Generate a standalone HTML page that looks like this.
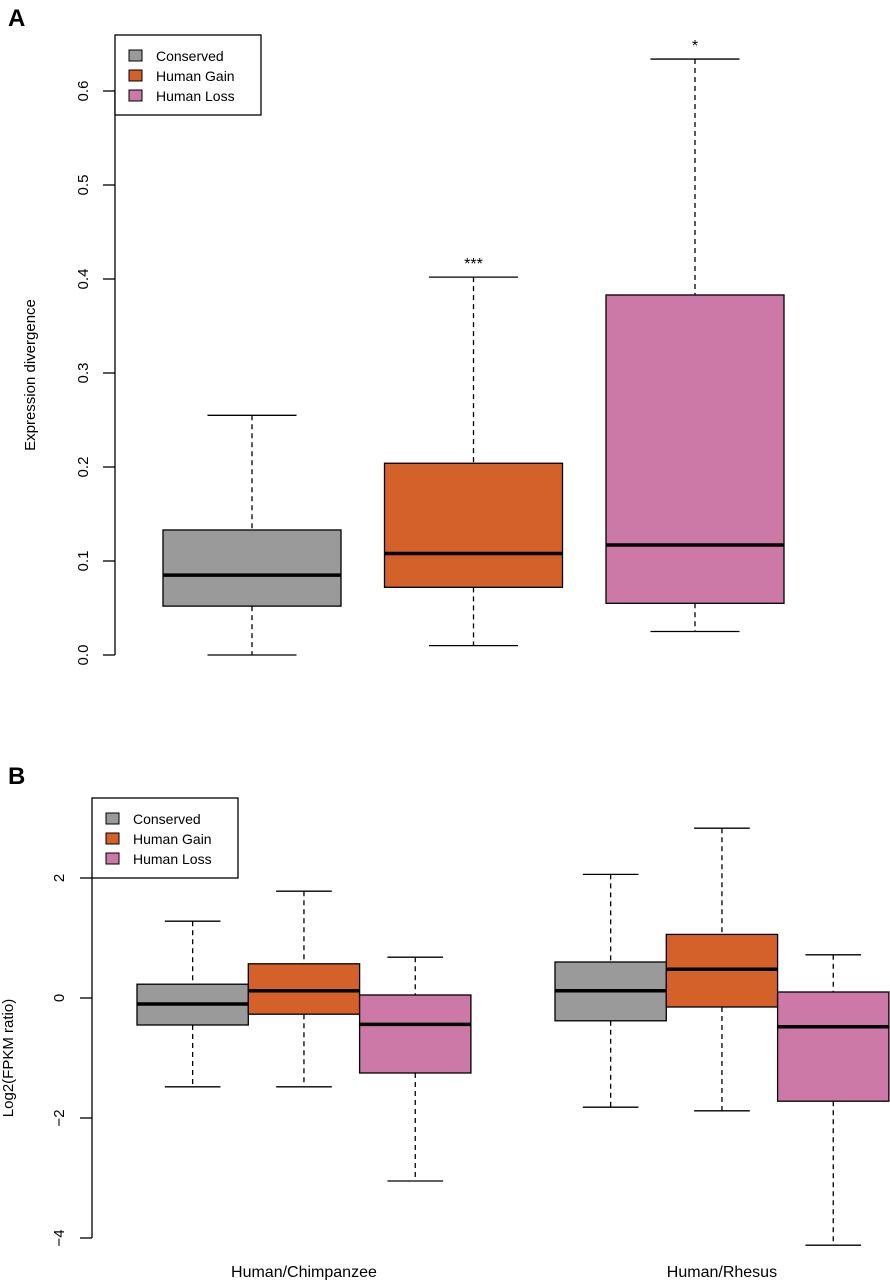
<!DOCTYPE html>
<html><head><meta charset="utf-8">
<style>
html,body{margin:0;padding:0;background:#fff;}
svg{display:block;font-family:"Liberation Sans",Arial,sans-serif;}
</style></head>
<body>
<svg id="chart" width="890" height="1280" viewBox="0 0 890 1280" xmlns="http://www.w3.org/2000/svg">
<text x="8" y="26" font-size="24" font-weight="bold">A</text>
<text x="8" y="784" font-size="24" font-weight="bold">B</text>
<g id="pa"></g>
<g id="pb"></g>
</svg>
<script>
// Panel A data
const aCategories = ["Conserved", "Human Gain", "Human Loss"];
const aLow = [0.0, 0.01, 0.025];
const aQ1 = [0.052, 0.072, 0.055];
const aMed = [0.085, 0.108, 0.117];
const aQ3 = [0.133, 0.204, 0.383];
const aHigh = [0.255, 0.402, 0.634];
const aSig = ["", "***", "*"];
const aTicks = [0.0, 0.1, 0.2, 0.3, 0.4, 0.5, 0.6];
const aTickLabels = ["0.0", "0.1", "0.2", "0.3", "0.4", "0.5", "0.6"];

// Panel B data
const bGroups = ["Human/Chimpanzee", "Human/Rhesus"];
const bSeries = ["Conserved", "Human Gain", "Human Loss"];
const bLow = [[-1.48, -1.48, -3.05], [-1.82, -1.88, -4.12]];
const bQ1 = [[-0.45, -0.27, -1.25], [-0.38, -0.15, -1.72]];
const bMed = [[-0.1, 0.12, -0.44], [0.12, 0.48, -0.48]];
const bQ3 = [[0.23, 0.57, 0.05], [0.6, 1.06, 0.1]];
const bHigh = [[1.28, 1.78, 0.68], [2.06, 2.83, 0.72]];
const bTicks = [-4, -2, 0, 2];
const bTickLabels = ["\u22124", "\u22122", "0", "2"];

const colors = ["#9a9a9a", "#d4602a", "#cc79a7"];
const NS = "http://www.w3.org/2000/svg";
function mk(parent, tag, attrs, text) {
  const e = document.createElementNS(NS, tag);
  for (const k in attrs) e.setAttribute(k, attrs[k]);
  if (text !== undefined) e.textContent = text;
  parent.appendChild(e);
  return e;
}

function drawBox(g, cx, w, y, lo, q1, med, q3, hi, fill, name) {
  const grp = mk(g, "g", {});
  
  
  const cap = w / 2;
  mk(grp, "line", {x1: cx, x2: cx, y1: y(hi), y2: y(q3), stroke: "#000", "stroke-width": 1.3, "stroke-dasharray": "5,4"});
  mk(grp, "line", {x1: cx, x2: cx, y1: y(q1), y2: y(lo), stroke: "#000", "stroke-width": 1.3, "stroke-dasharray": "5,4"});
  mk(grp, "line", {x1: cx - cap / 2, x2: cx + cap / 2, y1: y(hi), y2: y(hi), stroke: "#000", "stroke-width": 1.3});
  mk(grp, "line", {x1: cx - cap / 2, x2: cx + cap / 2, y1: y(lo), y2: y(lo), stroke: "#000", "stroke-width": 1.3});
  mk(grp, "rect", {x: cx - w / 2, y: y(q3), width: w, height: y(q1) - y(q3), fill: fill, stroke: "#000", "stroke-width": 1.3});
  mk(grp, "line", {x1: cx - w / 2, x2: cx + w / 2, y1: y(med), y2: y(med), stroke: "#000", "stroke-width": 3.5});
}

function drawLegend(g, x, y, name) {
  const lg = mk(g, "g", {});
  
  
  mk(lg, "rect", {x: x, y: y, width: 146, height: 80, fill: "#fff", stroke: "#000", "stroke-width": 1.3});
  bSeries.forEach((s, i) => {
    const e = mk(lg, "g", {});
    
    
    mk(e, "rect", {x: x + 14, y: y + 15 + i * 20, width: 13, height: 11, fill: colors[i], stroke: "#000", "stroke-width": 1});
    mk(e, "text", {x: x + 41, y: y + 26 + i * 20, "font-size": 14}, s);
  });
}

// Panel A
(function () {
  const g = document.getElementById("pa");
  const y = v => 655 - v * 940;
  const ax = 115;
  const axis = mk(g, "g", {});
  
  
  mk(axis, "line", {x1: ax, x2: ax, y1: y(aTicks[0]), y2: y(aTicks[aTicks.length - 1]), stroke: "#000", "stroke-width": 1.3});
  aTicks.forEach((t, i) => {
    mk(axis, "line", {x1: ax - 12, x2: ax, y1: y(t), y2: y(t), stroke: "#000", "stroke-width": 1.3});
    const tx = 88, ty = y(t);
    mk(axis, "text", {x: tx, y: ty, "font-size": 15, "text-anchor": "middle", transform: `rotate(-90 ${tx} ${ty})`}, aTickLabels[i]);
  });
  const yt = mk(g, "text", {x: 35, y: 375, "font-size": 15, "text-anchor": "middle", transform: "rotate(-90 35 375)"}, "Expression divergence");
  
  
  const cx0 = 252, step = 221.5, w = 178;
  aCategories.forEach((c, i) => {
    const cx = cx0 + i * step;
    drawBox(g, cx, w, y, aLow[i], aQ1[i], aMed[i], aQ3[i], aHigh[i], colors[i], "box-" + c.toLowerCase().replace(" ", "-"));
    if (aSig[i]) {
      const st = mk(g, "text", {x: cx, y: y(aHigh[i]) - 8, "font-size": 16, "text-anchor": "middle"}, aSig[i]);
      
      
    }
  });
  drawLegend(g, 115, 35, "legend-a");
})();

// Panel B
(function () {
  const g = document.getElementById("pb");
  const y = v => 998 - v * 60;
  const ax = 92;
  const axis = mk(g, "g", {});
  
  
  mk(axis, "line", {x1: ax, x2: ax, y1: y(bTicks[0]), y2: y(bTicks[bTicks.length - 1]), stroke: "#000", "stroke-width": 1.3});
  bTicks.forEach((t, i) => {
    mk(axis, "line", {x1: ax - 12, x2: ax, y1: y(t), y2: y(t), stroke: "#000", "stroke-width": 1.3});
    const tx = 64, ty = y(t);
    mk(axis, "text", {x: tx, y: ty, "font-size": 15, "text-anchor": "middle", transform: `rotate(-90 ${tx} ${ty})`}, bTickLabels[i]);
  });
  const yt = mk(g, "text", {x: 13, y: 1058, "font-size": 15, "text-anchor": "middle", transform: "rotate(-90 13 1058)"}, "Log2(FPKM ratio)");
  
  
  const groupStart = [137, 555], w = 111.3;
  bGroups.forEach((grpName, gi) => {
    bSeries.forEach((s, si) => {
      const cx = groupStart[gi] + w / 2 + si * w;
      drawBox(g, cx, w, y, bLow[gi][si], bQ1[gi][si], bMed[gi][si], bQ3[gi][si], bHigh[gi][si], colors[si], "box-" + gi + "-" + si);
    });
    const lbl = mk(g, "text", {x: groupStart[gi] + 1.5 * w, y: 1277, "font-size": 16, "text-anchor": "middle"}, grpName);
    
    
  });
  drawLegend(g, 92, 798, "legend-b");
})();
</script>
</body></html>
